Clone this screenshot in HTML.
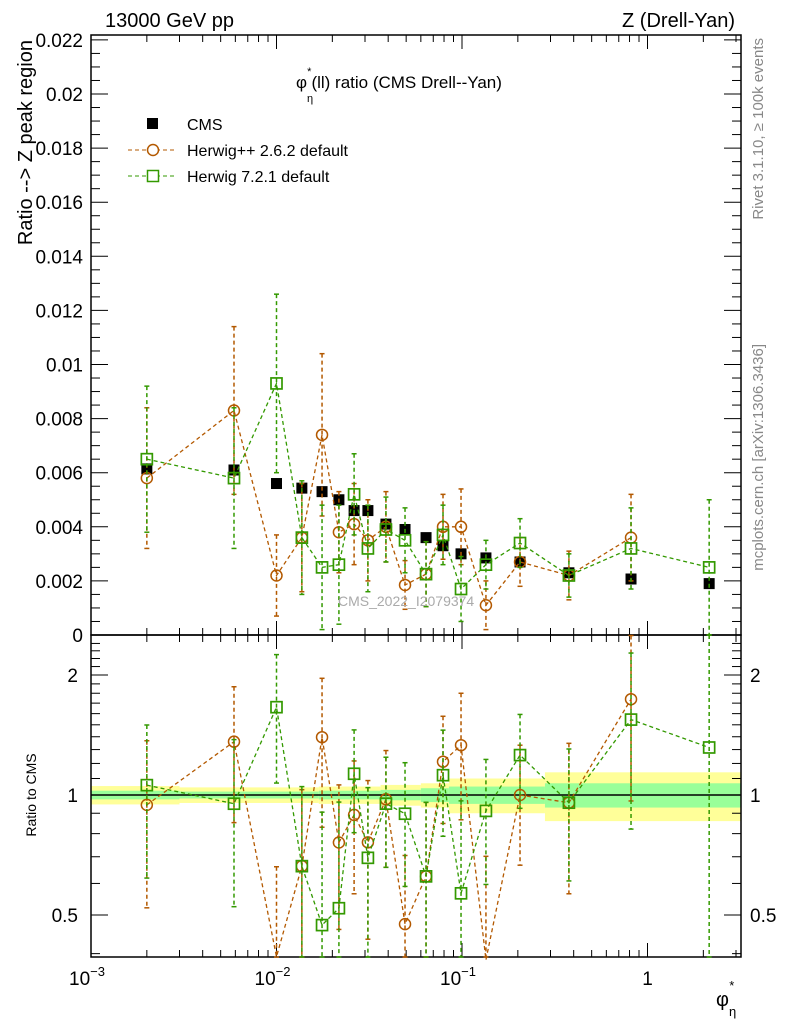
<!DOCTYPE html>
<html><head><meta charset="utf-8"><style>
body{margin:0;background:#fff;width:786px;height:1024px;overflow:hidden;font-family:"Liberation Sans",sans-serif}
svg text{font-family:"Liberation Sans","DejaVu Sans",sans-serif}
</style></head><body>
<svg id="c" width="786" height="1024" xmlns="http://www.w3.org/2000/svg"></svg>
<script>
const xVals=[0.002,0.0059,0.01,0.0137,0.0176,0.0217,0.0262,0.0311,0.0389,0.0493,0.064,0.079,0.0988,0.1346,0.2055,0.377,0.815,2.15];
const cmsY=[0.00614,0.0061,0.0056,0.00543,0.0053,0.005,0.0046,0.0046,0.0041,0.0039,0.0036,0.0033,0.0030,0.00285,0.0027,0.0023,0.00207,0.0019];
const hppY=[0.0058,0.0083,0.0022,0.0036,0.0074,0.0038,0.0041,0.0035,0.0040,0.00185,0.00225,0.0040,0.0040,0.0011,0.0027,0.0022,0.0036,null];
const hppErr=[0.0026,0.0031,0.0015,0.0020,0.0030,0.0015,0.0015,0.0015,0.0013,0.0009,0.0012,0.0012,0.0014,0.0009,0.0009,0.0009,0.0016,null];
const h7Y=[0.0065,0.0058,0.0093,0.0036,0.0025,0.0026,0.0052,0.0032,0.0039,0.0035,0.00225,0.0037,0.0017,0.0026,0.0034,0.0022,0.0032,0.0025];
const h7Err=[0.0027,0.0026,0.0033,0.0021,0.0023,0.0022,0.0015,0.0016,0.0012,0.0012,0.0012,0.0011,0.0012,0.0009,0.0009,0.0008,0.0015,0.0025];
const bandEdges=[0.001,0.003,0.0169,0.0364,0.06,0.085,0.28,3.2];
const bandYellow=[0.053,0.045,0.05,0.06,0.07,0.10,0.14];
const bandGreen=[0.025,0.02,0.025,0.03,0.04,0.05,0.07];
const yTicksMain=[0,0.002,0.004,0.006,0.008,0.01,0.012,0.014,0.016,0.018,0.02,0.022];
const yTickLabelsMain=["0","0.002","0.004","0.006","0.008","0.01","0.012","0.014","0.016","0.018","0.02","0.022"];
const rTicks=[0.5,1,2];
const rTickLabels=["0.5","1","2"];

const X0=91,X1=741,MT=35,MB=635,RB=957;
const sx=v=>X0+(Math.log10(v)+3)*185.5;
const sy=v=>635-v*27050;
const sr=v=>795-120*Math.log2(v);
const S=document.getElementById('c');
const NS="http://www.w3.org/2000/svg";
function mk(tag,attrs,parent){const e=document.createElementNS(NS,tag);for(const k in attrs)e.setAttribute(k,attrs[k]);(parent||S).appendChild(e);return e;}
function txt(x,y,s,attrs){const e=mk('text',Object.assign({x:x,y:y},attrs||{}));e.textContent=s;return e;}
const ORG="#b35900",GRN="#339900";

const gB=mk('g',{});


for(let i=0;i<bandYellow.length;i++){
  const a=sx(bandEdges[i]),b=sx(bandEdges[i+1]);
  mk('rect',{x:a,y:sr(1+bandYellow[i]),width:b-a,height:sr(1-bandYellow[i])-sr(1+bandYellow[i]),fill:"#ffff99"},gB);
  mk('rect',{x:a,y:sr(1+bandGreen[i]),width:b-a,height:sr(1-bandGreen[i])-sr(1+bandGreen[i]),fill:"#99ff99"},gB);
}
mk('line',{x1:X0,x2:X1,y1:sr(1),y2:sr(1),stroke:"#000","stroke-width":1.5});

mk('rect',{x:X0,y:MT,width:X1-X0,height:MB-MT,fill:"none",stroke:"#000","stroke-width":1.5});
mk('rect',{x:X0,y:MB,width:X1-X0,height:RB-MB,fill:"none",stroke:"#000","stroke-width":1.5});

for(let d=-3;d<=0;d++){for(let m=1;m<=9;m++){const v=m*Math.pow(10,d);const x=sx(v);if(x>X1)continue;const L=m==1?14:7;
 for(const[y0,dir] of [[MT,1],[MB,-1],[MB,1],[RB,-1]]) mk('line',{x1:x,x2:x,y1:y0,y2:y0+dir*L,stroke:"#000"});}}
const xl=[["10","−3",0.001],["10","−2",0.01],["10","−1",0.1],["1","",1]];
xl.forEach(l=>{const x=sx(l[2]);const t=txt(x-(l[1]?4:0),985,l[0],{"font-size":19,"text-anchor":"middle"});
 if(l[1]){const s=mk('tspan',{"font-size":13,dy:-9},t);s.textContent=l[1];}});
for(let v=0;v<=0.0222;v+=0.0005){const y=sy(v);const maj=Math.abs(v/0.002-Math.round(v/0.002))<1e-6;const L=maj?17:9;
 mk('line',{x1:X0,x2:X0+L,y1:y,y2:y,stroke:"#000"});mk('line',{x1:X1,x2:X1-L,y1:y,y2:y,stroke:"#000"});}
yTicksMain.forEach((v,i)=>{const t=txt(83,sy(v)+7,yTickLabelsMain[i],{"font-size":19,"text-anchor":"end"});});
for(let v=0.4;v<=2.5;v+=0.1){const y=sr(v);if(y<MB||y>RB)continue;const maj=[0.5,1,2].some(q=>Math.abs(q-v)<1e-6);const L=maj?17:9;
 mk('line',{x1:X0,x2:X0+L,y1:y,y2:y,stroke:"#000"});mk('line',{x1:X1,x2:X1-L,y1:y,y2:y,stroke:"#000"});}
rTicks.forEach((v,i)=>{const t=txt(78,sr(v)+7,rTickLabels[i],{"font-size":19,"text-anchor":"end"});
 const t2=txt(750,sr(v)+7,rTickLabels[i],{"font-size":19});});

function series(ys,errs,col,shape,ratio,name){
  const g=mk('g',{});
  
  
  const Y=(v,i)=>ratio?sr(Math.max(0.3,v/cmsY[i])):sy(v);
  let pts=[];
  ys.forEach((v,i)=>{if(v==null)return;const x=sx(xVals[i]);const y=Y(v,i);pts.push(x+","+y);
    const lo=Math.max(v-errs[i],ratio?0.3*cmsY[i]:0),hi=v+errs[i];
    let y1=Y(hi,i),y2=Y(lo,i);y1=Math.max(y1,ratio?MB:MT);y2=Math.min(y2,ratio?RB:MB);
    mk('line',{x1:x,x2:x,y1:y1,y2:y2,stroke:col,"stroke-dasharray":"4,3","stroke-width":1.5},g);
    mk('line',{x1:x-2.5,x2:x+2.5,y1:y1,y2:y1,stroke:col,"stroke-width":1.5},g);
    mk('line',{x1:x-2.5,x2:x+2.5,y1:y2,y2:y2,stroke:col,"stroke-width":1.5},g);
  });
  mk('polyline',{points:pts.join(" "),fill:"none",stroke:col,"stroke-dasharray":"4,3","stroke-width":1.3},g);
  ys.forEach((v,i)=>{if(v==null)return;const x=sx(xVals[i]);const y=Y(v,i);if(ratio&&v/cmsY[i]<0.41)return;
    if(shape=='c')mk('circle',{cx:x,cy:y,r:5.5,fill:"none",stroke:col,"stroke-width":1.5},g);
    else mk('rect',{x:x-5.5,y:y-5.5,width:11,height:11,fill:"none",stroke:col,"stroke-width":1.7},g);});
  return g;
}
const cms=mk('g',{});


cmsY.forEach((v,i)=>{const x=sx(xVals[i]);mk('rect',{x:x-5.5,y:sy(v)-5.5,width:11,height:11,fill:"#000"},cms);});
series(hppY,hppErr,ORG,'c',false,'herwigpp-series');
series(h7Y,h7Err,GRN,'s',false,'herwig7-series');
series(hppY,hppErr,ORG,'c',true,'herwigpp-ratio');
series(h7Y,h7Err,GRN,'s',true,'herwig7-ratio');

const T=(x,y,s,a,n)=>{const t=txt(x,y,s,a);return t;};
T(105,27,"13000 GeV pp",{"font-size":20},'energy-label');
T(735,27,"Z (Drell-Yan)",{"font-size":20,"text-anchor":"end"},'process-label');
const tt=T(296,88,"φ",{"font-size":17},'plot-title');
const a1=mk('tspan',{"font-size":11,dy:14},tt);a1.textContent="η";
const a2=mk('tspan',{"font-size":11,dx:-6,dy:-27},tt);a2.textContent="*";
const a3=mk('tspan',{"font-size":17,dy:13},tt);a3.textContent="(ll) ratio (CMS Drell--Yan)";
mk('rect',{x:147,y:118,width:11,height:11,fill:"#000"});
T(187,130,"CMS",{"font-size":16},'legend-cms');
mk('line',{x1:128,x2:175,y1:150,y2:150,stroke:ORG,"stroke-dasharray":"4,3"});
mk('circle',{cx:153,cy:150,r:5.5,fill:"#fff",stroke:ORG,"stroke-width":1.5});
T(187,156,"Herwig++ 2.6.2 default",{"font-size":16},'legend-herwigpp');
mk('line',{x1:128,x2:175,y1:176,y2:176,stroke:GRN,"stroke-dasharray":"4,3"});
mk('rect',{x:147.5,y:170.5,width:11,height:11,fill:"#fff",stroke:GRN,"stroke-width":1.5});
T(187,182,"Herwig 7.2.1 default",{"font-size":16},'legend-herwig7');
T(338,606,"CMS_2022_I2079374",{"font-size":14,fill:"#aaa"},'analysis-watermark');
T(0,0,"Ratio --> Z peak region",{"font-size":20,"text-anchor":"end",transform:"translate(32,40) rotate(-90)"},'y-axis-title');
T(0,0,"Ratio to CMS",{"font-size":14,"text-anchor":"middle",transform:"translate(36,795) rotate(-90)"},'ratio-axis-title');
T(0,0,"Rivet 3.1.10, ≥ 100k events",{"font-size":15,fill:"#888","text-anchor":"end",transform:"translate(763,38) rotate(-90)"},'rivet-label');
T(0,0,"mcplots.cern.ch [arXiv:1306.3436]",{"font-size":15,fill:"#888","text-anchor":"end",transform:"translate(763,344) rotate(-90)"},'mcplots-label');
const xt=T(716,1006,"φ",{"font-size":20},'x-axis-title');
const b1=mk('tspan',{"font-size":13,dy:10},xt);b1.textContent="η";
const b2=mk('tspan',{"font-size":13,dx:-7,dy:-26},xt);b2.textContent="*";
</script>
</body></html>
